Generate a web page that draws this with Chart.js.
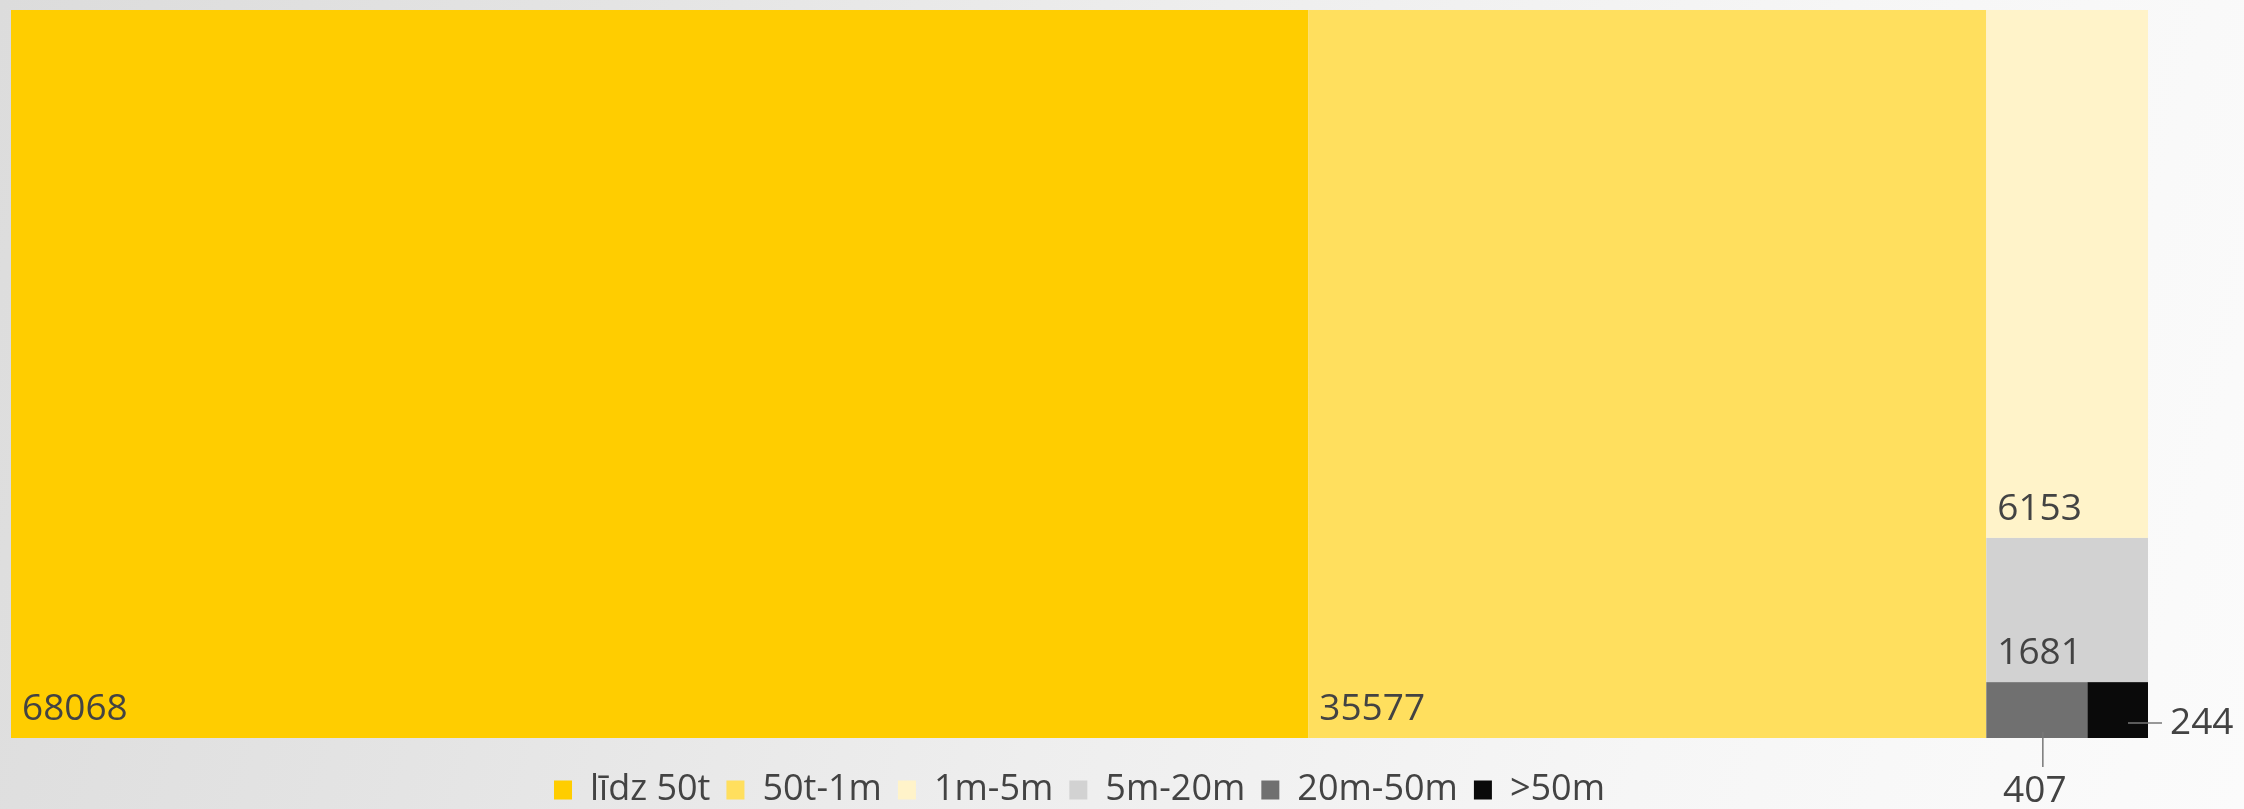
<!DOCTYPE html>
<html>
<head>
<meta charset="utf-8">
<title>Treemap</title>
<script src="https://cdn.jsdelivr.net/npm/chart.js@4.4.1/dist/chart.umd.min.js"></script>
<style>
  html, body {
    margin: 0;
    padding: 0;
    width: 2244px;
    height: 809px;
    overflow: hidden;
    background: linear-gradient(105deg, #dcdcdc 0%, #e4e4e4 25%, #eeeeee 50%, #f6f6f6 75%, #fbfbfb 100%);
  }
  /* a bit taller than the window so the legend sits like in the report */
  #wrap { position: relative; width: 2244px; height: 818px; }
</style>
</head>
<body>
<div id="wrap"><canvas id="treeChart"></canvas></div>
<script>
// categories and values
const categories = ['līdz 50t', '50t-1m', '1m-5m', '5m-20m', '20m-50m', '>50m'];
const counts = [68068, 35577, 6153, 1681, 407, 244];
const colors = ['#FFCD00', '#FFDF5E', '#FFF3C9', '#D2D2D2', '#707070', '#0A0A0A'];

const labelColor = '#434343';
const labelFont = '37px "Open Sans", "Noto Sans", sans-serif';

// worst aspect ratio of a row laid along a side
function worst (row, side) {
  const s = row.reduce((a, b) => a + b, 0);
  const mx = Math.max(...row), mn = Math.min(...row);
  return Math.max((side * side * mx) / (s * s), (s * s) / (side * side * mn));
}

// plain squarified layout, areas must be sorted desc
function squarify (areas, rect, out) {
  let i = 0;
  while (i < areas.length) {
    const side = Math.min(rect.w, rect.h);
    const row = [areas[i]];
    let j = i + 1;
    while (j < areas.length && worst(row.concat(areas[j]), side) <= worst(row, side)) {
      row.push(areas[j]);
      j++;
    }
    const s = row.reduce((a, b) => a + b, 0);
    if (rect.w >= rect.h) {
      const cw = s / rect.h;
      let yy = rect.y;
      row.forEach(a => { const hh = a / cw; out.push({x: rect.x, y: yy, w: cw, h: hh}); yy += hh; });
      rect = {x: rect.x + cw, y: rect.y, w: rect.w - cw, h: rect.h};
    } else {
      const rh = s / rect.w;
      let xx = rect.x;
      row.forEach(a => { const ww = a / rh; out.push({x: xx, y: rect.y, w: ww, h: rh}); xx += ww; });
      rect = {x: rect.x, y: rect.y + rh, w: rect.w, h: rect.h - rh};
    }
    i = j;
  }
}

const treemapPlugin = {
  id: 'treemap',
  afterDatasetsDraw (chart) {
    const {ctx, chartArea, scales: {x, y}} = chart;
    const W = chartArea.width, H = chartArea.height;
    const total = counts.reduce((a, b) => a + b, 0);
    const boxes = [];
    squarify(counts.map(v => v / total * W * H), {x: 0, y: 0, w: W, h: H}, boxes);

    // back to scale values (0..1) and then to pixels through the scales
    const px = boxes.map(b => ({
      left: x.getPixelForValue(b.x / W),
      right: x.getPixelForValue((b.x + b.w) / W),
      top: y.getPixelForValue(b.y / H),
      bottom: y.getPixelForValue((b.y + b.h) / H)
    }));

    ctx.save();
    px.forEach((r, i) => {
      ctx.fillStyle = colors[i];
      ctx.fillRect(r.left, r.top, r.right - r.left, r.bottom - r.top);
    });

    ctx.font = labelFont;
    ctx.fillStyle = labelColor;
    ctx.strokeStyle = '#777777';
    ctx.lineWidth = 1.5;
    px.forEach((r, i) => {
      const txt = String(counts[i]);
      const tw = ctx.measureText(txt).width;
      if (r.bottom - r.top > 70 && r.right - r.left > tw + 20) {
        ctx.textAlign = 'left';
        ctx.textBaseline = 'alphabetic';
        ctx.fillText(txt, r.left + 11, r.bottom - 18);
      } else if (r.right >= chartArea.right - 1) {
        // label to the right with a short leader
        const ly = r.bottom - 15;
        ctx.beginPath();
        ctx.moveTo(r.right - 20, ly);
        ctx.lineTo(r.right + 14, ly);
        ctx.stroke();
        ctx.textAlign = 'left';
        ctx.textBaseline = 'middle';
        ctx.fillText(txt, r.right + 22, ly);
      } else {
        // label under the box
        const lx = (r.left + r.right) / 2 + 6;
        ctx.beginPath();
        ctx.moveTo(lx, r.bottom - 6);
        ctx.lineTo(lx, r.bottom + 29);
        ctx.stroke();
        ctx.textAlign = 'center';
        ctx.textBaseline = 'alphabetic';
        ctx.fillText(txt, lx - 8, r.bottom + 64);
      }
    });
    ctx.restore();
  }
};

const chart = new Chart(document.getElementById('treeChart').getContext('2d'), {
  type: 'scatter',
  data: {
    datasets: categories.map((c, i) => ({
      label: c,
      data: [],
      backgroundColor: colors[i],
      borderColor: colors[i],
      borderWidth: 0
    }))
  },
  options: {
    responsive: true,
    maintainAspectRatio: false,
    animation: false,
    layout: { padding: { left: 11, top: 10, right: 96, bottom: 0 } },
    scales: {
      x: { type: 'linear', min: 0, max: 1, display: false },
      y: { type: 'linear', min: 0, max: 1, reverse: true, display: false }
    },
    plugins: {
      legend: {
        position: 'bottom',
        // blank title only used as a spacer above the items
        title: { display: true, text: ' ', padding: 0, font: { size: 10, lineHeight: 1.8 } },
        labels: {
          boxWidth: 18,
          boxHeight: 19,
          padding: 16,
          color: labelColor,
          font: { family: '"Open Sans", "Noto Sans", sans-serif', size: 36 }
        }
      },
      tooltip: { enabled: false }
    }
  },
  plugins: [treemapPlugin]
});
</script>
</body>
</html>
